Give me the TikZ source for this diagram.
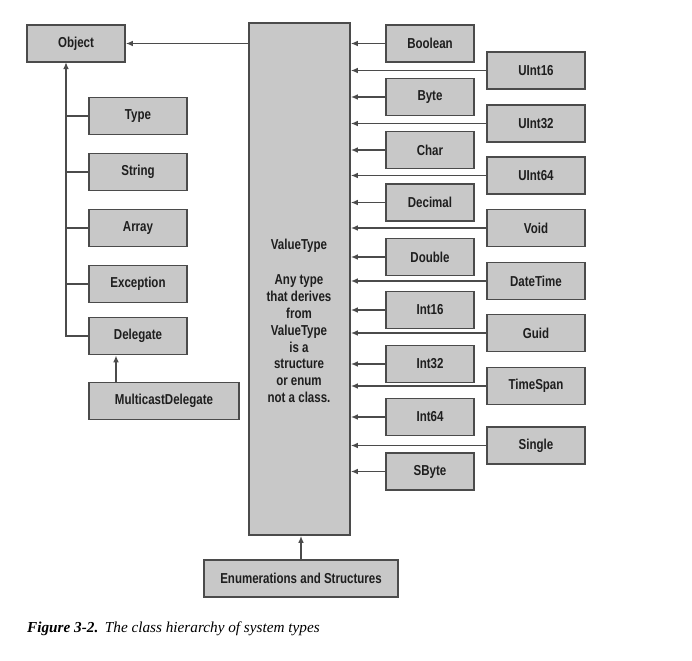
\documentclass[tikz,border=0pt]{standalone}
\usepackage{fontspec}
\setmainfont{Liberation Serif}
\newfontfamily\boxfont[FakeStretch=0.8]{Liberation Sans}
\usetikzlibrary{arrows.meta}
\definecolor{boxfill}{RGB}{200,200,200}
\definecolor{boxline}{RGB}{75,75,75}
\definecolor{inkcol}{RGB}{30,30,30}
\tikzstyle{Type}=[draw=boxline, fill=boxfill, line width=0.5mm, text=inkcol, font=\boxfont\bfseries\fontsize{12.3}{13.6}\selectfont, inner sep=0pt, minimum height=11.1mm]
\tikzstyle{LeftType}=[style=Type, minimum width=29.4mm]
\tikzstyle{Short}=[style=Type, minimum width=26.4mm]
\tikzstyle{Long}=[style=Type, minimum width=29.4mm]
\tikzstyle{arrow}=[line width=0.45mm, draw=boxline, -{Latex[length=2.1mm,width=1.7mm]}]
\tikzstyle{branch}=[line width=0.45mm, draw=boxline]

\begin{document}
\begin{tikzpicture}[x=0.3mm, y=-0.3mm]
	\useasboundingbox (0,0) rectangle (692,660);
	% base classes
	\node [style=LeftType] (object) at (76,43.5) {Object};
	\node [style=LeftType] (type) at (138,116) {Type};
	\node [style=LeftType] (string) at (138,172) {String};
	\node [style=LeftType] (array) at (138,228) {Array};
	\node [style=LeftType] (exception) at (138,284) {Exception};
	\node [style=LeftType] (delegate) at (138,336) {Delegate};
	\node [style=Type, minimum width=45mm] (multicast) at (164,401) {MulticastDelegate};
	\coordinate (trunk) at (66,62);

	% value type
	\node [style=Type, minimum width=30.3mm, minimum height=153.6mm] (valuetype) at (299.5,279) {};
	\node [text=inkcol, font=\boxfont\bfseries\fontsize{12.3}{14.4}\selectfont, align=center] (vtlabel) at (299,321)
		{ValueType\\[5.4mm]Any type\\that derives\\from\\ValueType\\is a\\structure\\or enum\\not a class.};
	\node [style=Type, minimum width=58.2mm] (enums) at (301,578.5) {Enumerations and Structures};

	% value types, inner column
	\node [style=Short] (boolean) at (430,43.5) {Boolean};
	\node [style=Short] (byte) at (430,97) {Byte};
	\node [style=Short] (char) at (430,150) {Char};
	\node [style=Short] (decimal) at (430,202.5) {Decimal};
	\node [style=Short] (double) at (430,257) {Double};
	\node [style=Short] (int16) at (430,310) {Int16};
	\node [style=Short] (int32) at (430,364) {Int32};
	\node [style=Short] (int64) at (430,417) {Int64};
	\node [style=Short] (sbyte) at (430,471.5) {SByte};
	% value types, outer column
	\node [style=Long] (uint16) at (536,70.5) {UInt16};
	\node [style=Long] (uint32) at (536,123.5) {UInt32};
	\node [style=Long] (uint64) at (536,175.5) {UInt64};
	\node [style=Long] (void) at (536,228) {Void};
	\node [style=Long] (datetime) at (536,281) {DateTime};
	\node [style=Long] (guid) at (536,333) {Guid};
	\node [style=Long] (timespan) at (536,386) {TimeSpan};
	\node [style=Long] (single) at (536,445.5) {Single};

	% connectors
	\draw [style=arrow] (valuetype.west |- object.east) -- (object.east);
	\draw [style=arrow] (delegate.west) -| (trunk);
	\foreach \t in {type, string, array, exception}
		\draw [style=branch] (\t.west) -- (\t.west -| trunk);
	\draw [style=arrow] (multicast.north -| 116,0) -- (delegate.south -| 116,0);
	\draw [style=arrow] (enums.north) -- (enums.north |- valuetype.south);
	\foreach \t in {boolean, byte, char, decimal, double, int16, int32, int64, sbyte,
		uint16, uint32, uint64, void, datetime, guid, timespan, single}
		\draw [style=arrow] (\t.west) -- (\t.west -| valuetype.east);

	% caption
	\node [anchor=base west, inner sep=0pt, font=\fontsize{13}{15}\selectfont] (caption) at (27,632)
		{\textbf{\textit{Figure 3-2.}}\hspace{2mm}\textit{The class hierarchy of system types}};
\end{tikzpicture}
\end{document}
